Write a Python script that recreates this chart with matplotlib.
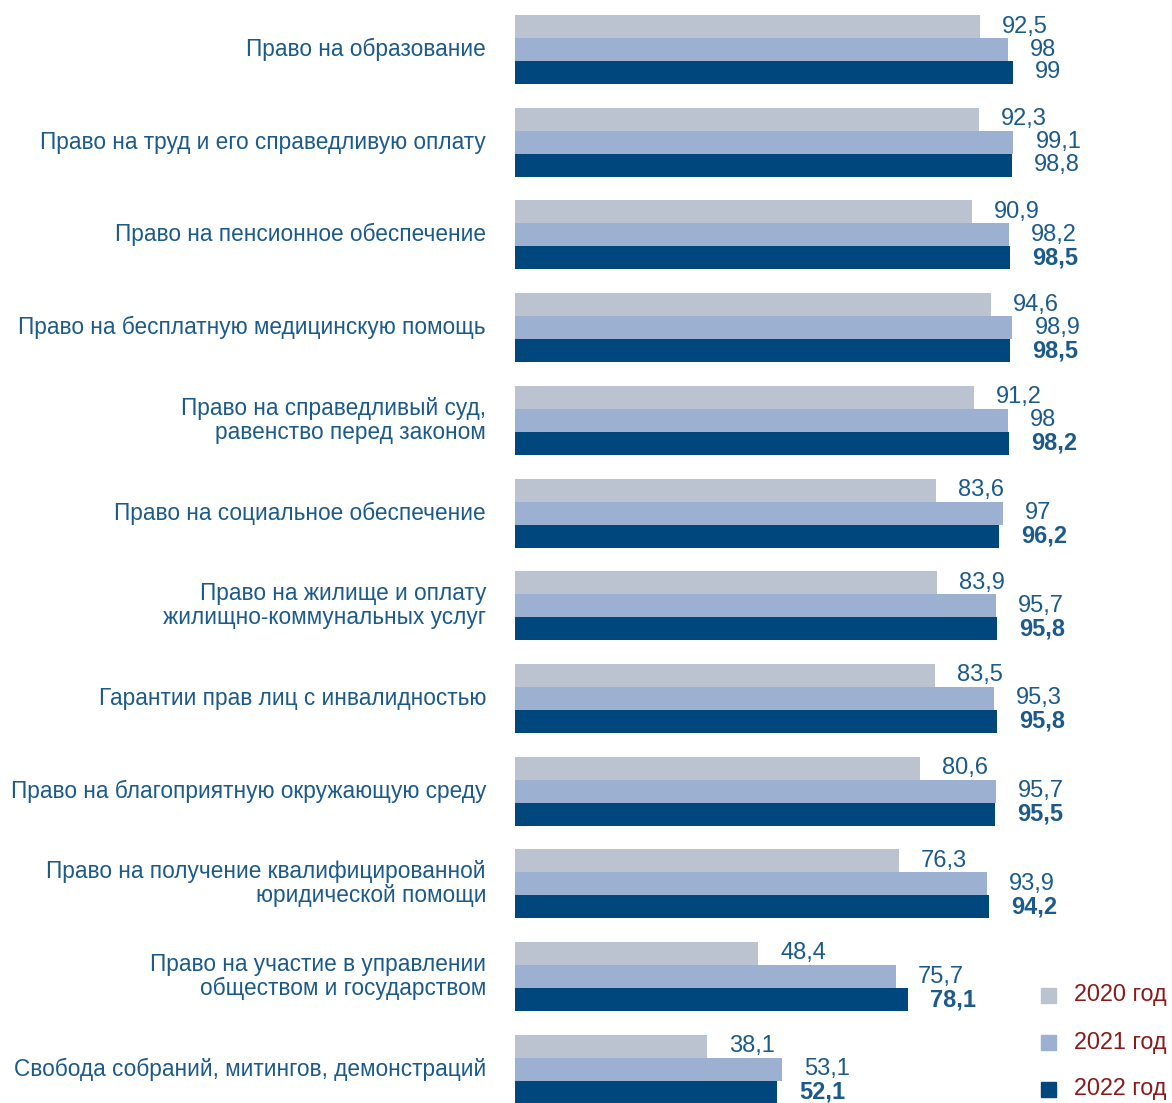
import matplotlib

matplotlib.use("Agg")
import matplotlib.pyplot as plt  # noqa: E402
import numpy as np  # noqa: E402

plt.rcParams["font.family"] = ["Liberation Sans", "DejaVu Sans"]

categories = [
    "Право на образование",
    "Право на труд и его справедливую оплату",
    "Право на пенсионное обеспечение",
    "Право на бесплатную медицинскую помощь",
    "Право на справедливый суд,\nравенство перед законом",
    "Право на социальное обеспечение",
    "Право на жилище и оплату\nжилищно-коммунальных услуг",
    "Гарантии прав лиц с инвалидностью",
    "Право на благоприятную окружающую среду",
    "Право на получение квалифицированной\nюридической помощи",
    "Право на участие в управлении\nобществом и государством",
    "Свобода собраний, митингов, демонстраций",
]
v2020 = [92.5, 92.3, 90.9, 94.6, 91.2, 83.6, 83.9, 83.5, 80.6, 76.3, 48.4, 38.1]
v2021 = [98, 99.1, 98.2, 98.9, 98, 97, 95.7, 95.3, 95.7, 93.9, 75.7, 53.1]
v2022 = [99, 98.8, 98.5, 98.5, 98.2, 96.2, 95.8, 95.8, 95.5, 94.2, 78.1, 52.1]
bold_2022 = [False, False] + [True] * 10
years = ["2020 год", "2021 год", "2022 год"]
colors = ["#bcc3d0", "#9cb1d1", "#00477e"]
TEXT = "#1b5a8a"
LEG = "#8b1a1a"

W, H = 1172, 1103
fig = plt.figure(figsize=(W / 100, H / 100), dpi=100)
fig.patch.set_facecolor("white")

# axes start where bars start; scale ~5.03 px per unit, group period ~92.7 px
left = 515
ax = fig.add_axes([left / W, 0, 1 - left / W, 1])
period = 92.7
c0 = 49.5
ax.set_xlim(0, (W - left) / 5.03)
ax.set_ylim((H - c0) / period, -c0 / period)
ax.axis("off")

y = np.arange(len(categories))
h = 23 / period
series = [v2020, v2021, v2022]
for k, (vals, col) in enumerate(zip(series, colors)):
    ypos = y + (k - 1) * h
    ax.barh(ypos, vals, height=h, color=col, edgecolor="none")
    for i, v in enumerate(vals):
        txt = f"{v:g}".replace(".", ",")
        bold = k == 2 and bold_2022[i]
        ax.annotate(txt, (v, ypos[i]), xytext=(22, 0), textcoords="offset pixels",
                    ha="left", va="center", fontsize=17, color=TEXT,
                    fontweight="bold" if bold else "normal")

for i, cat in enumerate(categories):
    ax.annotate(cat, (0, y[i]), xytext=(-29, 0), textcoords="offset pixels",
                ha="right", va="center", fontsize=16.3, color=TEXT,
                linespacing=1.07, annotation_clip=False)

# legend, nudged up a little so the last entry stays inside the frame
leg_y = [995, 1042, 1089]
for name, col, py in zip(years, colors, leg_y):
    fig.patches.append(plt.Rectangle((1041 / W, 1 - (py + 8) / H), 15 / W, 15 / H,
                                     transform=fig.transFigure, color=col))
    fig.text(1074 / W, 1 - py / H, name, ha="left", va="center", fontsize=16.8, color=LEG)

fig.savefig("out.png", dpi=100, facecolor="white")
